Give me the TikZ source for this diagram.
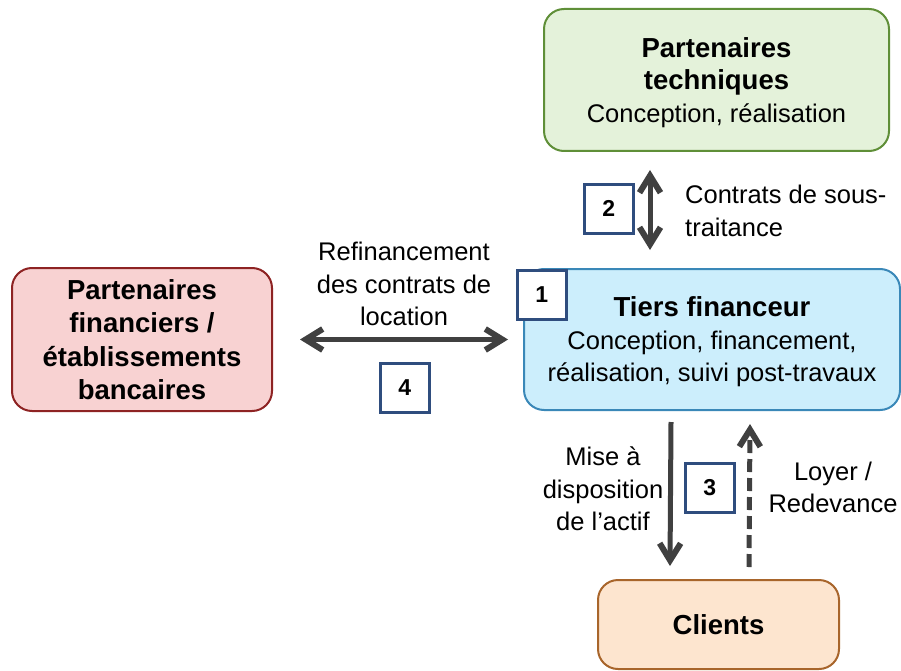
\documentclass[tikz,border=0pt]{standalone}
\usepackage{fontspec}
\setmainfont{Liberation Sans}
\usetikzlibrary{arrows.meta}
\definecolor{greenfill}{HTML}{E4F2DA}
\definecolor{greendraw}{HTML}{5F8F38}
\definecolor{bluefill}{HTML}{CCEEFC}
\definecolor{bluedraw}{HTML}{3A88B8}
\definecolor{redfill}{HTML}{F8D2D2}
\definecolor{reddraw}{HTML}{8E2323}
\definecolor{orangefill}{HTML}{FDE5CF}
\definecolor{orangedraw}{HTML}{A8652B}
\definecolor{navy}{HTML}{2F4D7E}
\definecolor{arrowgray}{HTML}{404040}
\newcommand{\bigb}[1]{{\fontsize{27.5}{32.5}\selectfont\bfseries #1}}
\begin{document}
\begin{tikzpicture}[x=1pt,y=-1pt,
  every node/.style={font=\fontsize{25.5}{32.5}\selectfont, text=black},
  box/.style={draw, rounded corners=20pt, line width=2pt, align=center, inner sep=0pt, anchor=north west},
  numbox/.style={draw=navy, fill=white, line width=2.5pt, minimum size=49pt, inner sep=0pt,
     font=\fontsize{23}{27}\selectfont\bfseries, anchor=north west},
  lbl/.style={align=center, inner sep=0pt},
  tipb/.tip={Straight Barb[length=17pt,width=21pt,line width=6pt]},
  arr/.style={draw=arrowgray, line width=5pt, -tipb},
  darr/.style={draw=arrowgray, line width=5pt, tipb-tipb}
]
\useasboundingbox (0,0) rectangle (901,671);

\node[box, fill=greenfill, draw=greendraw, minimum width=345pt, minimum height=142pt, text depth=0pt] (tech) at (543,8)
  {\bigb{Partenaires}\\ \bigb{techniques}\\ Conception, réalisation};

\node[box, fill=bluefill, draw=bluedraw, minimum width=376pt, minimum height=141pt, text depth=0pt] (tiers) at (523,268)
  {\bigb{Tiers financeur}\\ Conception, financement,\\ réalisation, suivi post-travaux};

\node[box, fill=redfill, draw=reddraw, minimum width=260pt, minimum height=143pt,
  font=\fontsize{27.5}{33.5}\selectfont\bfseries] (fin) at (11,267)
  {Partenaires\\ financiers /\\ établissements\\ bancaires};

\node[box, fill=orangefill, draw=orangedraw, minimum width=241pt, minimum height=89pt] (cli) at (597,579)
  {\bigb{Clients}};

\node[numbox] (n1) at (516,269) {1};
\node[numbox] (n2) at (583,183) {2};
\node[numbox] (n3) at (684,462) {3};
\node[numbox] (n4) at (379,362) {4};

% connectors
\draw[darr] ([xshift=-66.5pt,yshift=-18pt]tech.south) -- ([xshift=-62pt,yshift=18pt]tiers.north);
\draw[darr] ([xshift=27pt]fin.east) -- ([xshift=-15pt]tiers.west);
\draw[arr] ([xshift=-41pt,yshift=-11pt]tiers.south) -- ([xshift=-48.5pt,yshift=13pt]cli.north);
\draw[arr, dash pattern=on 13pt off 6pt] ([xshift=30.5pt,yshift=12pt]cli.north) -- ([xshift=38pt,yshift=-13pt]tiers.south);

% labels
\node[lbl, align=left, anchor=west] (l2) at (685,211) {Contrats de sous-\\traitance};
\node[lbl] (l4) at (404,284) {Refinancement\\des contrats de\\location};
\node[lbl] (l3a) at (603,489) {Mise à\\disposition\\de l’actif};
\node[lbl] (l3b) at (833,487.5) {Loyer /\\Redevance};
\end{tikzpicture}
\end{document}
